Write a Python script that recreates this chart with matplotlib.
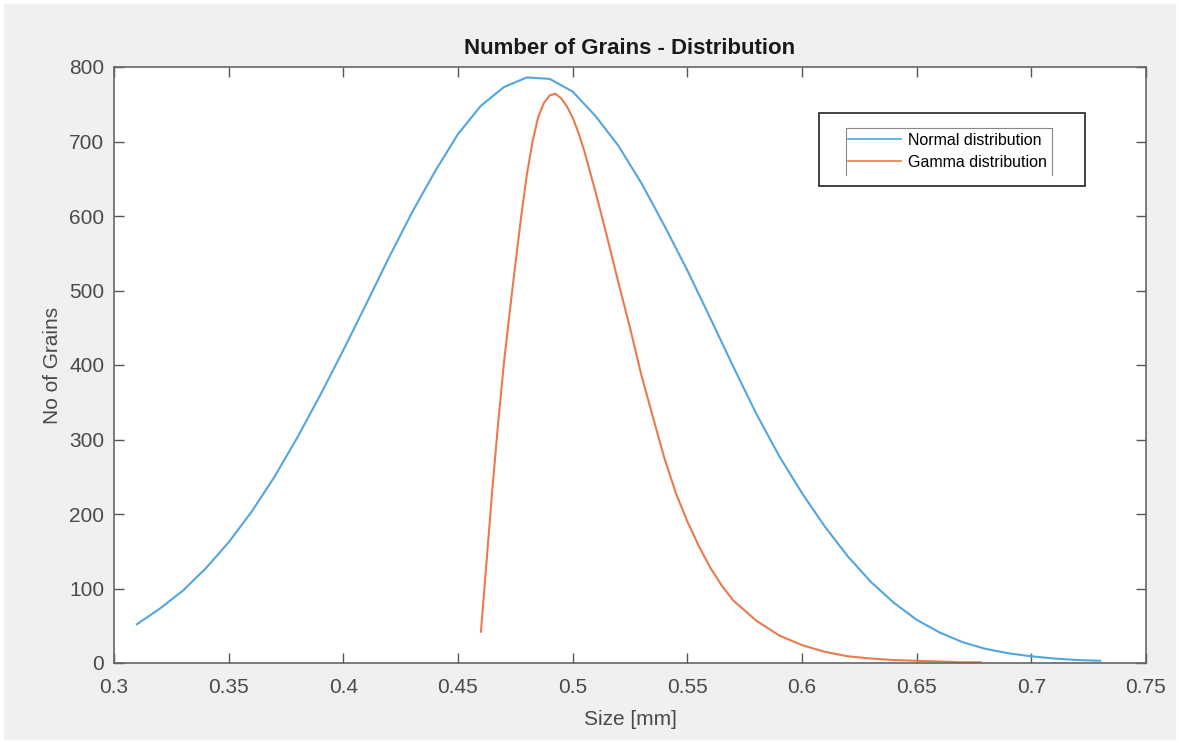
import matplotlib
matplotlib.use("Agg")
import matplotlib.pyplot as plt
from matplotlib.patches import Rectangle
from matplotlib.lines import Line2D

plt.rcParams['font.family'] = ['Liberation Sans', 'DejaVu Sans']

# Normal distribution readings (size in mm, number of grains)
normal_size = [0.31, 0.32, 0.33, 0.34, 0.35, 0.36, 0.37, 0.38, 0.39, 0.40,
               0.41, 0.42, 0.43, 0.44, 0.45, 0.46, 0.47, 0.48, 0.49, 0.50,
               0.51, 0.52, 0.53, 0.54, 0.55, 0.56, 0.57, 0.58, 0.59, 0.60,
               0.61, 0.62, 0.63, 0.64, 0.65, 0.66, 0.67, 0.68, 0.69, 0.70,
               0.71, 0.72, 0.73]
normal_count = [52, 73, 97, 127, 162, 203, 250, 303, 360, 420,
                482, 545, 605, 660, 710, 748, 773, 786, 784, 767,
                734, 694, 644, 587, 527, 463, 398, 335, 278, 228,
                183, 143, 109, 81, 58, 41, 28, 19, 13, 9,
                6, 4, 3]

# Gamma distribution readings
gamma_size = [0.46, 0.4625, 0.465, 0.4675, 0.47, 0.4725, 0.475, 0.4775, 0.48, 0.4825,
              0.485, 0.4875, 0.49, 0.4925, 0.495, 0.4975, 0.50, 0.5025, 0.505, 0.51,
              0.515, 0.52, 0.525, 0.53, 0.535, 0.54, 0.545, 0.55, 0.555, 0.56,
              0.565, 0.57, 0.58, 0.59, 0.60, 0.61, 0.62, 0.63, 0.64, 0.65,
              0.66, 0.67, 0.678]
gamma_count = [42, 138, 234, 322, 402, 470, 535, 598, 655, 700,
               733, 752, 762, 764, 758, 747, 732, 712, 688, 632,
               572, 510, 450, 386, 330, 275, 228, 190, 157, 128,
               104, 84, 57, 37, 24, 15, 9, 6, 4, 3,
               2, 1, 1]

x_ticks = [0.3, 0.35, 0.4, 0.45, 0.5, 0.55, 0.6, 0.65, 0.7, 0.75]
x_labels = ['0.3', '0.35', '0.4', '0.45', '0.5', '0.55', '0.6', '0.65', '0.7', '0.75']
y_ticks = [0, 100, 200, 300, 400, 500, 600, 700, 800]

W, H = 1179, 743
fig = plt.figure(figsize=(W / 100, H / 100), dpi=100, facecolor='#f0f0f0')
ax = fig.add_axes([114 / W, 1 - 663 / H, (1146 - 114) / W, (663 - 67) / H])
ax.set_facecolor('white')

ax.plot(normal_size, normal_count, color='#52a6de', lw=1.5)
ax.plot(gamma_size, gamma_count, color='#e97a4d', lw=1.5)

ax.set_xlim(0.3, 0.75)
ax.set_ylim(0, 800)
ax.set_xticks(x_ticks)
ax.set_xticklabels(x_labels)
ax.set_yticks(y_ticks)

grey = '#4a4a4a'
for s in ax.spines.values():
    s.set_color('#666666')
    s.set_linewidth(1.2)
ax.tick_params(direction='in', length=7, width=1, colors='#555555',
               labelcolor=grey, labelsize=15, top=True, right=True, pad=7)
ax.tick_params(axis='x', pad=11)

ax.set_xlabel('Size [mm]', fontsize=15, color=grey, labelpad=9)
ax.set_ylabel('No of Grains', fontsize=15, color=grey, labelpad=5)
ax.set_title('Number of Grains - Distribution', fontsize=16, fontweight='bold',
             color='#1a1a1a', pad=9)

# legend: outer black box, inner grey box open at the bottom
fig.patches.append(Rectangle((819 / W, 1 - 186 / H), (1085 - 819) / W, (186 - 113) / H,
                             transform=fig.transFigure, fill=False,
                             edgecolor='#222222', lw=1.2, zorder=5))
inner_x = [846 / W, 846 / W, 1052 / W, 1052 / W]
inner_y = [1 - 175 / H, 1 - 128 / H, 1 - 128 / H, 1 - 175 / H]
fig.lines.append(Line2D(inner_x, inner_y, transform=fig.transFigure,
                        color='#888888', lw=0.8, zorder=5))

handles = [Line2D([], [], color='#52a6de', lw=1.2),
           Line2D([], [], color='#e97a4d', lw=1.2)]
fig.legend(handles, ['Normal distribution', 'Gamma distribution'],
           loc='upper left', bbox_to_anchor=(848 / W, 1 - 133 / H),
           frameon=False, fontsize=11.5, borderpad=0, borderaxespad=0,
           handlelength=3.3, handletextpad=0.45, labelspacing=0.42)

# thin white border round the screenshot
fig.patches.append(Rectangle((0, 0), 1, 1, transform=fig.transFigure, fill=False,
                             edgecolor='white', lw=5))

fig.savefig('out.png', dpi=100, facecolor=fig.get_facecolor())
